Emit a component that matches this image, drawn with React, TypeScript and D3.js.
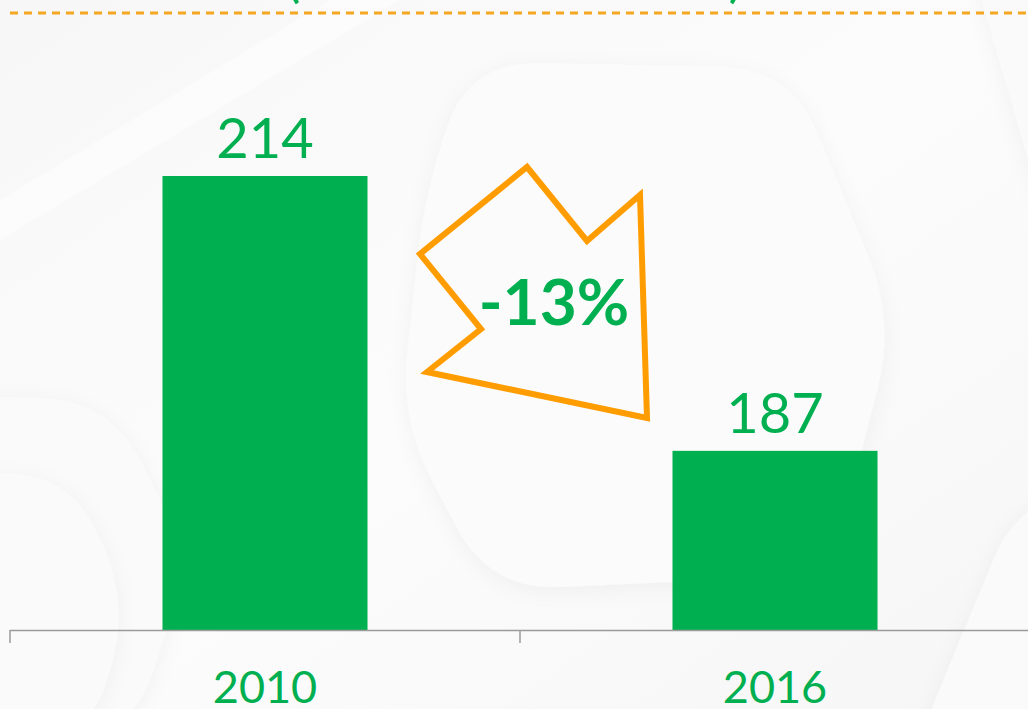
import { useMemo } from 'react';
import * as d3 from 'd3';

// chart data
const years = ['2010', '2016'];
const values = [214, 187];
const changeLabel = '-13%';

const WIDTH = 1028;
const HEIGHT = 709;
const GREEN = '#00AF50';
const ORANGE = '#FF9D00';
const FONT = '"Century Gothic", Lato, "Open Sans", sans-serif';

// decorative background hexagons (vertex lists)
const hexagons: [number, number][][] = [
  [[470, 62], [790, 68], [895, 320], [830, 575], [490, 590], [400, 420], [425, 190]],
  [[-60, 395], [110, 400], [190, 560], [130, 740], [-60, 740]],
  [[-40, 470], [70, 478], [130, 600], [90, 740], [-40, 740]],
  [[970, -40], [1080, -40], [1080, 230], [1040, 200]],
  [[1010, 520], [1080, 480], [1080, 760], [910, 760]],
];

// arrow annotation shape
const arrowShape: [number, number][] = [
  [527, 167], [587, 241], [640, 195], [647, 418], [427, 372], [481, 329], [420, 254],
];

function roundedPath(pts: [number, number][], r: number) {
  const n = pts.length;
  let d = '';
  for (let i = 0; i < n; i++) {
    const p = pts[i];
    const prev = pts[(i - 1 + n) % n];
    const next = pts[(i + 1) % n];
    const v1 = [prev[0] - p[0], prev[1] - p[1]];
    const v2 = [next[0] - p[0], next[1] - p[1]];
    const l1 = Math.hypot(v1[0], v1[1]);
    const l2 = Math.hypot(v2[0], v2[1]);
    const rr = Math.min(r, l1 / 2, l2 / 2);
    const a = [p[0] + (v1[0] / l1) * rr, p[1] + (v1[1] / l1) * rr];
    const b = [p[0] + (v2[0] / l2) * rr, p[1] + (v2[1] / l2) * rr];
    d += (i === 0 ? 'M' : 'L') + a[0] + ',' + a[1] + 'Q' + p[0] + ',' + p[1] + ' ' + b[0] + ',' + b[1];
  }
  return d + 'Z';
}

export default function App() {
  const x = useMemo(() => d3.scaleBand<string>().domain(years).range([10, 1030]).padding(0), []);
  const y = useMemo(() => d3.scaleLinear().domain([169.4, 214]).range([630, 176]), []);
  const barWidth = x.bandwidth() * 0.402;
  const tickXs = [...years.map((yr) => x(yr) as number), 1030];

  return (
    <svg
      width={WIDTH}
      height={HEIGHT}
      viewBox={`0 0 ${WIDTH} ${HEIGHT}`}
      style={{ position: 'absolute', left: 0, top: 0, display: 'block' }}
    >
      <defs>
        <filter id="soft" x="-20%" y="-20%" width="140%" height="140%">
          <feDropShadow dx="0" dy="4" stdDeviation="10" floodColor="#000" floodOpacity="0.045" />
        </filter>
        <linearGradient id="bg" x1="0" y1="0" x2="1" y2="1">
          <stop offset="0" stopColor="#f7f7f7" />
          <stop offset="0.5" stopColor="#fcfcfc" />
          <stop offset="1" stopColor="#f6f6f6" />
        </linearGradient>
      </defs>
      <rect x={0} y={0} width={WIDTH} height={HEIGHT} fill="url(#bg)" />
      {/* diagonal light bands */}
      <path d="M0,240 L400,0 L330,0 L0,200 Z" fill="#ffffff" opacity={0.45} />
      {hexagons.map((h, i) => (
        <path
          key={i}
          d={roundedPath(h, 70)}
          fill={i === 0 ? '#fbfbfb' : '#fafafa'}
          filter="url(#soft)"
        />
      ))}

      {/* title remnant above the visible area */}
      <text x={293} y={-4} fill={GREEN} fontFamily={FONT} fontSize={56} textAnchor="middle">(</text>
      <text x={736} y={-4} fill={GREEN} fontFamily={FONT} fontSize={56} textAnchor="middle">)</text>
      <line x1={10} x2={1028} y1={13} y2={13} stroke="#F5A623" strokeWidth={3} strokeDasharray="8 6" />

      {/* bars */}
      {years.map((yr, i) => {
        const cx = (x(yr) as number) + x.bandwidth() / 2;
        return (
          <g key={yr}>
            <rect
              x={cx - barWidth / 2}
              y={y(values[i])}
              width={barWidth}
              height={630 - y(values[i])}
              fill={GREEN}
            />
            <text
              x={cx}
              y={y(values[i]) - 18}
              fill={GREEN}
              fontFamily={FONT}
              fontSize={56}
              textAnchor="middle"
            >
              {values[i]}
            </text>
            <text x={cx} y={703} fill={GREEN} fontFamily={FONT} fontSize={45} textAnchor="middle">
              {yr}
            </text>
          </g>
        );
      })}

      {/* axis */}
      <line x1={10} x2={1030} y1={630.5} y2={630.5} stroke="#9a9a9a" strokeWidth={1.5} />
      {tickXs.map((tx) => (
        <line key={tx} x1={tx} x2={tx} y1={630} y2={643} stroke="#9a9a9a" strokeWidth={1.5} />
      ))}

      {/* change annotation */}
      <path
        d={d3.line()(arrowShape) + 'Z'}
        fill="none"
        stroke={ORANGE}
        strokeWidth={6}
        strokeLinejoin="miter"
      />
      <text
        x={554}
        y={325}
        fill={GREEN}
        fontFamily={FONT}
        fontSize={64}
        fontWeight="bold"
        textAnchor="middle"
      >
        {changeLabel}
      </text>
    </svg>
  );
}
